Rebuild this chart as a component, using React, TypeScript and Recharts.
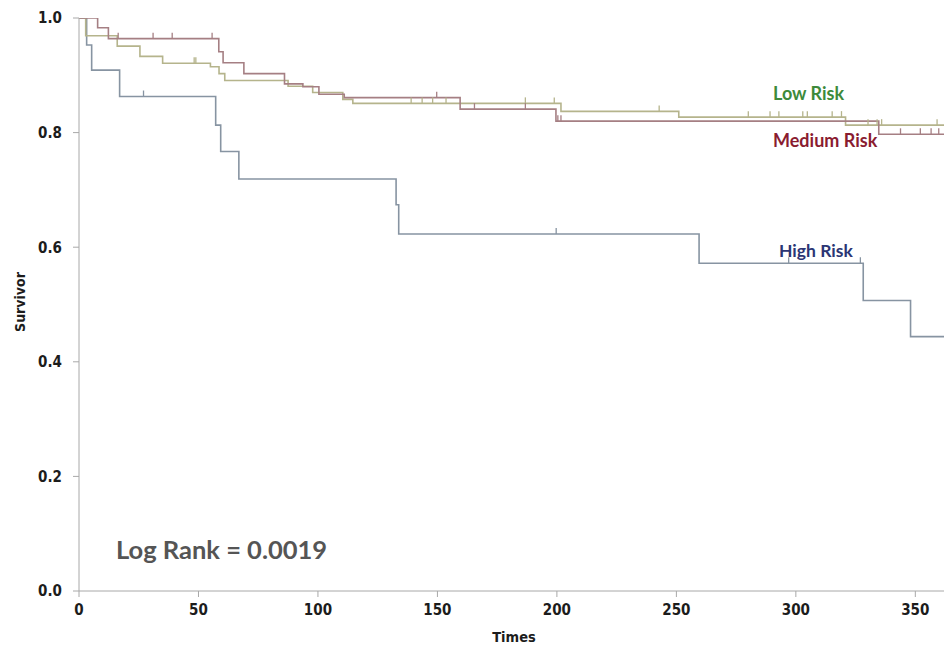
import React from 'react';
import { ComposedChart, Line, Scatter, XAxis, YAxis } from 'recharts';

// Axis ticks
const xTicks = [0, 50, 100, 150, 200, 250, 300, 350];
const yTicks = [0, 0.2, 0.4, 0.6, 0.8, 1.0];

// High Risk step curve
const highTimes = [0, 3.2, 5.3, 17, 57.2, 59.3, 66.9, 132.7, 133.8, 259.5, 328.2, 348, 362];
const highSurv = [1, 0.953, 0.909, 0.863, 0.813, 0.767, 0.719, 0.674, 0.623, 0.572, 0.507, 0.444, 0.444];
const highCensorTimes = [27, 199.7, 297, 327];
const highCensorSurv = [0.863, 0.623, 0.572, 0.572];

// Medium Risk step curve
const medTimes = [0, 7.8, 12.3, 58.5, 60.3, 69, 86, 93.7, 100.4, 111, 159.5, 199.6, 334.7, 362];
const medSurv = [1, 0.983, 0.964, 0.941, 0.922, 0.903, 0.885, 0.88, 0.867, 0.861, 0.841, 0.82, 0.797, 0.797];
const medCensorTimes = [16.4, 31, 39, 55.7, 149.7, 165.5, 186.8, 200.4, 201.7, 343.8, 352.1, 356.6, 359.8];
const medCensorSurv = [0.964, 0.964, 0.964, 0.964, 0.861, 0.841, 0.841, 0.82, 0.82, 0.797, 0.797, 0.797, 0.797];

// Low Risk step curve
const lowTimes = [0, 2.8, 16, 25.5, 35, 55, 58.6, 61, 87.5, 97.8, 110.4, 114.6, 201.7, 251, 320.8, 362];
const lowSurv = [1, 0.969, 0.951, 0.933, 0.921, 0.915, 0.903, 0.891, 0.881, 0.87, 0.858, 0.851, 0.837, 0.827, 0.813, 0.813];
const lowCensorTimes = [48.2, 48.9, 139, 143.6, 148, 153.6, 186.8, 198.9, 242.8, 280.1, 289.2, 292.9, 302.9, 304.8, 315.2, 319.1, 330.2, 334, 335.9, 359.1];
const lowCensorSurv = [0.921, 0.921, 0.851, 0.851, 0.851, 0.851, 0.851, 0.851, 0.837, 0.827, 0.827, 0.827, 0.827, 0.827, 0.827, 0.827, 0.813, 0.813, 0.813, 0.813];

const zip = (ts: number[], ss: number[]) => ts.map((t, i) => ({ t, s: ss[i] }));

const highData = zip(highTimes, highSurv);
const medData = zip(medTimes, medSurv);
const lowData = zip(lowTimes, lowSurv);
const highCensor = zip(highCensorTimes, highCensorSurv);
const medCensor = zip(medCensorTimes, medCensorSurv);
const lowCensor = zip(lowCensorTimes, lowCensorSurv);

const HIGH_COLOR = '#8794a2';
const MED_COLOR = '#a57f83';
const LOW_COLOR = '#b5b48c';
const AXIS_COLOR = '#a8a8a8';

const tickFont = {
  fontFamily: '"DejaVu Sans Condensed", "DejaVu Sans", sans-serif',
  fontSize: 15,
  fontWeight: 'bold' as const,
  fill: '#1c1c1c',
};

const makeMark = (color: string) => (props: any) => {
  const { cx, cy } = props;
  if (cx == null || cy == null) return <g />;
  return <line x1={cx} x2={cx} y1={cy} y2={cy - 6} stroke={color} strokeWidth={1.3} />;
};

const labelFont = 'Lato, "Open Sans", "Liberation Sans", sans-serif';
const axisTitleFont = '"DejaVu Sans Condensed", "DejaVu Sans", sans-serif';

export default function App() {
  return (
    <div style={{ position: 'absolute', left: 0, top: 0, width: 944, height: 647, background: '#fff' }}>
      <ComposedChart
        width={944}
        height={647}
        margin={{ top: 18, right: 0, bottom: 0, left: 0 }}
      >
        <XAxis
          type="number"
          dataKey="t"
          domain={[0, 362]}
          ticks={xTicks}
          allowDataOverflow
          height={56}
          stroke={AXIS_COLOR}
          tickSize={6}
          tickMargin={7}
          tick={tickFont}
          interval={0}
        />
        <YAxis
          type="number"
          dataKey="s"
          domain={[0, 1]}
          ticks={yTicks}
          allowDataOverflow
          width={79}
          stroke={AXIS_COLOR}
          tickSize={6}
          tickMargin={11}
          tick={tickFont}
          tickFormatter={(v: number) => v.toFixed(1)}
          interval={0}
        />
        <Line data={highData} dataKey="s" type="stepAfter" stroke={HIGH_COLOR} strokeWidth={1.6} dot={false} activeDot={false} isAnimationActive={false} />
        <Line data={lowData} dataKey="s" type="stepAfter" stroke={LOW_COLOR} strokeWidth={1.6} dot={false} activeDot={false} isAnimationActive={false} />
        <Line data={medData} dataKey="s" type="stepAfter" stroke={MED_COLOR} strokeWidth={1.6} dot={false} activeDot={false} isAnimationActive={false} />
        <Scatter data={highCensor} dataKey="s" shape={makeMark(HIGH_COLOR)} isAnimationActive={false} />
        <Scatter data={lowCensor} dataKey="s" shape={makeMark(LOW_COLOR)} isAnimationActive={false} />
        <Scatter data={medCensor} dataKey="s" shape={makeMark(MED_COLOR)} isAnimationActive={false} />
      </ComposedChart>

      <div style={{ position: 'absolute', left: 773, top: 82, fontFamily: labelFont, fontWeight: 'bold', fontSize: 18, color: '#3d8a3a', whiteSpace: 'nowrap', lineHeight: '22px' }}>Low Risk</div>
      <div style={{ position: 'absolute', left: 773, top: 129, fontFamily: labelFont, fontWeight: 'bold', fontSize: 18, color: '#8a1c30', whiteSpace: 'nowrap', lineHeight: '22px' }}>Medium Risk</div>
      <div style={{ position: 'absolute', left: 779, top: 240, fontFamily: labelFont, fontWeight: 'bold', fontSize: 17.5, color: '#2b3574', whiteSpace: 'nowrap', lineHeight: '22px' }}>High Risk</div>
      <div style={{ position: 'absolute', left: 116, top: 533, fontFamily: labelFont, fontWeight: 'bold', fontSize: 25.5, color: '#555555', whiteSpace: 'nowrap', lineHeight: '32px' }}>Log Rank = 0.0019</div>
      <div style={{ position: 'absolute', left: 514, top: 637, transform: 'translate(-50%, -50%)', fontFamily: axisTitleFont, fontWeight: 'bold', fontSize: 14.5, color: '#1c1c1c', whiteSpace: 'nowrap' }}>Times</div>
      <div style={{ position: 'absolute', left: 20, top: 302, transform: 'translate(-50%, -50%) rotate(-90deg)', fontFamily: axisTitleFont, fontWeight: 'bold', fontSize: 14, color: '#1c1c1c', whiteSpace: 'nowrap' }}>Survivor</div>
    </div>
  );
}
